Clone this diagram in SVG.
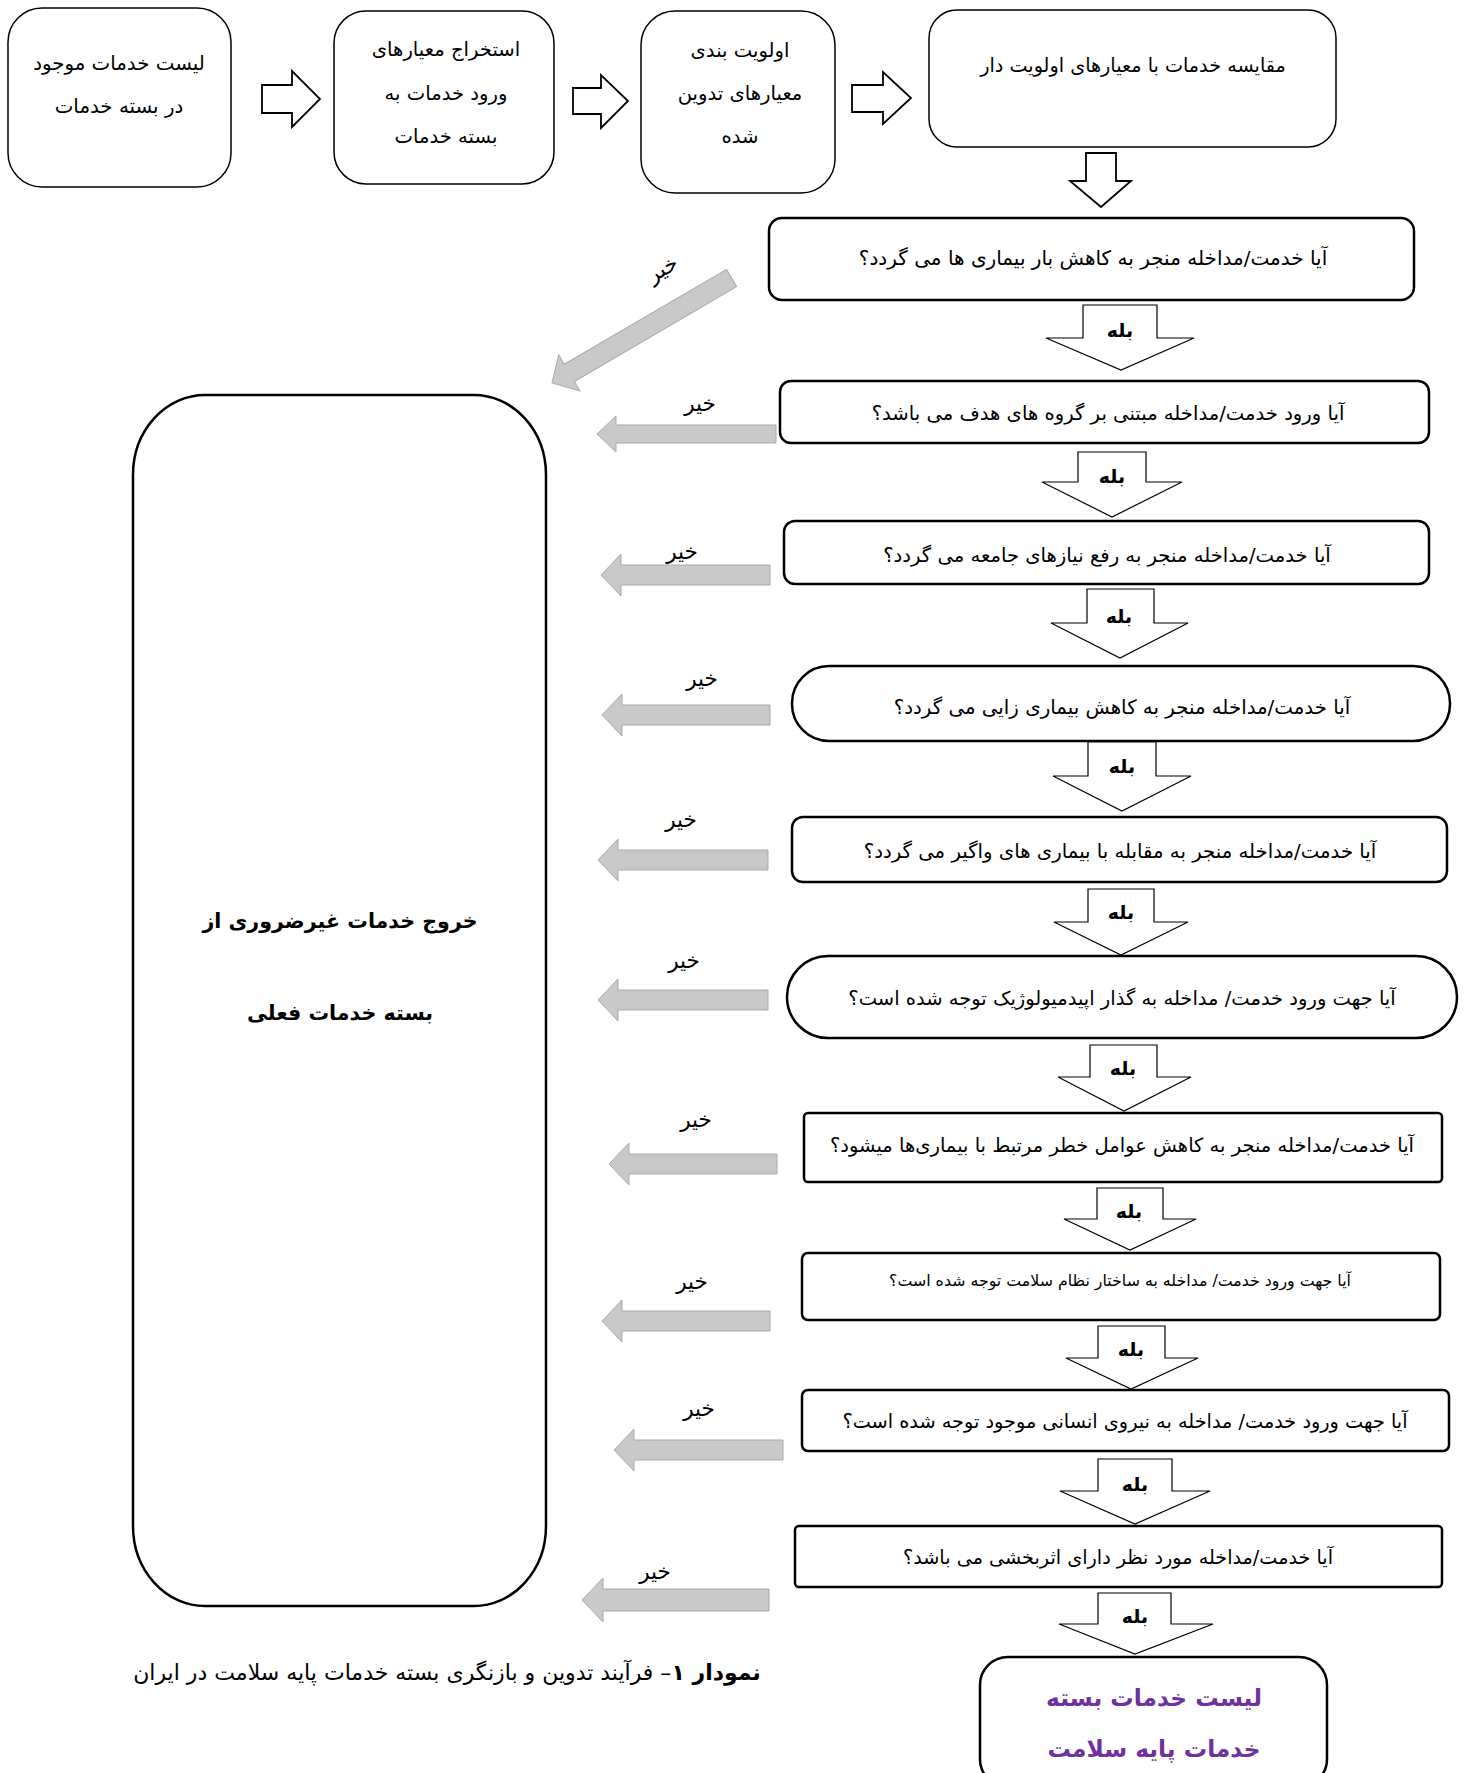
<svg xmlns="http://www.w3.org/2000/svg" width="1467" height="1773" viewBox="0 0 1467 1773">
<style>
.box{fill:#fff;stroke:#000;stroke-width:1.5}
.q{fill:#fff;stroke:#000;stroke-width:2.5}
.t{font-family:'DejaVu Sans',sans-serif;fill:#000;direction:rtl;text-anchor:middle}
.b{font-weight:bold}
.hollow{fill:#fff;stroke:#000;stroke-width:1.8;stroke-linejoin:miter}
.yes{fill:#fff;stroke:#000;stroke-width:1.2}
.no{fill:#c9c9c9;stroke:#a9a9a9;stroke-width:1}
.purple{fill:#7030a0}
</style>
<rect width="1467" height="1773" fill="#fff"/>

<g id="n-list">
<rect class="box" x="8" y="8" width="223" height="179" rx="34"/>
<text class="t" x="119" y="70" font-size="19.8">لیست خدمات موجود</text>
<text class="t" x="119" y="113" font-size="19.8">در بسته خدمات</text>
</g>
<g id="n-extract">
<rect class="box" x="334" y="11" width="220" height="173" rx="32"/>
<text class="t" x="446" y="56" font-size="19.6">استخراج معیارهای</text>
<text class="t" x="446" y="100" font-size="19.6">ورود خدمات به</text>
<text class="t" x="446" y="143" font-size="19.6">بسته خدمات</text>
</g>
<g id="n-priority">
<rect class="box" x="641" y="11" width="194" height="182" rx="34"/>
<text class="t" x="740" y="57" font-size="19.6">اولویت بندی</text>
<text class="t" x="740" y="100" font-size="19.6">معیارهای تدوین</text>
<text class="t" x="740" y="143" font-size="19.6">شده</text>
</g>
<g id="n-compare">
<rect class="box" x="929" y="10" width="407" height="137" rx="28"/>
<text class="t" x="1133" y="72" font-size="19.2">مقایسه خدمات با معیارهای اولویت دار</text>
</g>

<g id="q1">
<rect class="q" x="769" y="218" width="645" height="82" rx="13"/>
<text class="t" x="1093" y="265" font-size="20">آیا خدمت/مداخله منجر به کاهش  بار بیماری ها می گردد؟</text>
</g>
<g id="q2">
<rect class="q" x="780" y="381" width="649" height="62" rx="11"/>
<text class="t" x="1108" y="420" font-size="19.6">آیا ورود خدمت/مداخله مبتنی بر گروه های هدف می باشد؟</text>
</g>
<g id="q3">
<rect class="q" x="784" y="521" width="645" height="63" rx="11"/>
<text class="t" x="1107" y="562" font-size="19.6">آیا خدمت/مداخله منجر به رفع نیازهای جامعه می گردد؟</text>
</g>
<g id="q4">
<rect class="q" x="792" y="666" width="658" height="75" rx="37"/>
<text class="t" x="1122" y="714" font-size="19.8">آیا خدمت/مداخله منجر به کاهش بیماری زایی می گردد؟</text>
</g>
<g id="q5">
<rect class="q" x="792" y="817" width="655" height="65" rx="11"/>
<text class="t" x="1120" y="858" font-size="19.7">آیا خدمت/مداخله منجر به مقابله با بیماری های واگیر می گردد؟</text>
</g>
<g id="q6">
<rect class="q" x="787" y="956" width="670" height="82" rx="41"/>
<text class="t" x="1122" y="1005" font-size="19.5">آیا جهت ورود خدمت/ مداخله به گذار اپیدمیولوژیک توجه شده است؟</text>
</g>
<g id="q7">
<rect class="q" x="804" y="1113" width="638" height="69" rx="4"/>
<text class="t" x="1122" y="1152" font-size="19.5">آیا خدمت/مداخله منجر به کاهش عوامل خطر مرتبط با بیماری&#8204;ها میشود؟</text>
</g>
<g id="q8">
<rect class="q" x="802" y="1253" width="638" height="67" rx="6"/>
<text class="t" x="1120" y="1286" font-size="15.8">آیا جهت ورود خدمت/ مداخله به ساختار نظام سلامت توجه شده است؟</text>
</g>
<g id="q9">
<rect class="q" x="802" y="1390" width="647" height="61" rx="6"/>
<text class="t" x="1125" y="1428" font-size="19.3">آیا جهت ورود خدمت/ مداخله به نیروی انسانی موجود توجه شده است؟</text>
</g>
<g id="q10">
<rect class="q" x="795" y="1526" width="647" height="61" rx="4"/>
<text class="t" x="1118" y="1564" font-size="19.2">آیا خدمت/مداخله مورد نظر دارای اثربخشی می باشد؟</text>
</g>
<g id="n-final">
<rect class="q" x="980" y="1657" width="347" height="130" rx="28"/>
<text class="t b purple" x="1154" y="1706" font-size="23.3">لیست خدمات بسته</text>
<text class="t b purple" x="1154" y="1757" font-size="23.3">خدمات پایه سلامت</text>
</g>
<g id="n-exit">
<rect class="q" x="133" y="395" width="413" height="1211" rx="72" ry="80"/>
<text class="t b" x="340" y="928" font-size="20.6">خروج خدمات غیرضروری از</text>
<text class="t b" x="340" y="1020" font-size="20.6">بسته خدمات فعلی</text>
</g>

<g id="caption">
<text class="t" x="447" y="1680" font-size="22"><tspan class="b">نمودار ۱</tspan>– فرآیند تدوین و بازنگری بسته خدمات پایه سلامت در ایران</text>
</g>

<g id="connectors">
<path class="hollow" d="M262,85 H292 V71 L320,99 L292,127 V113 H262 Z"/>
<path class="hollow" d="M573,88 H601 V75 L628,101 L601,128 V114 H573 Z"/>
<path class="hollow" d="M852,85 H883 V72 L911,98 L883,124 V112 H852 Z"/>
<path class="hollow" d="M1086,153 H1116 V181 H1131 L1101,207 L1070,181 H1086 Z"/>

<path class="yes" d="M1083,305 H1157 V338 H1194 L1121,370 L1046,338 H1083 Z"/>
<path class="yes" d="M1078,452 H1146 V482 H1182 L1112,517 L1042,482 H1078 Z"/>
<path class="yes" d="M1087,589 H1154 V623 H1188 L1120,658 L1051,623 H1087 Z"/>
<path class="yes" d="M1088,742 H1156 V776 H1191 L1122,811 L1053,776 H1088 Z"/>
<path class="yes" d="M1088,889 H1154 V922 H1188 L1121,955 L1054,922 H1088 Z"/>
<path class="yes" d="M1090,1045 H1157 V1077 H1191 L1124,1111 L1058,1077 H1090 Z"/>
<path class="yes" d="M1097,1188 H1163 V1219 H1196 L1130,1250 L1064,1219 H1097 Z"/>
<path class="yes" d="M1098,1326 H1165 V1358 H1198 L1131,1389 L1066,1358 H1098 Z"/>
<path class="yes" d="M1098,1459 H1172 V1491 H1210 L1135,1524 L1060,1491 H1098 Z"/>
<path class="yes" d="M1098,1593 H1171 V1624 H1213 L1135,1654 L1059,1624 H1098 Z"/>
<g class="t b" font-size="19">
<text x="1120" y="337">بله</text>
<text x="1112" y="483">بله</text>
<text x="1119" y="623">بله</text>
<text x="1122" y="773">بله</text>
<text x="1121" y="919">بله</text>
<text x="1123" y="1075">بله</text>
<text x="1129" y="1218">بله</text>
<text x="1131" y="1356">بله</text>
<text x="1135" y="1491">بله</text>
<text x="1135" y="1623">بله</text>
</g>

<path class="no" transform="translate(552,383) rotate(-30.3)" d="M0,0 L20,-21 V-10 H208 V10 H20 V21 Z"/>
<path class="no" d="M597,434 L616,416 V425 H776 V443 H616 V452 Z"/>
<path class="no" d="M601,575 L621,554 V565 H770 V585 H621 V596 Z"/>
<path class="no" d="M602,715 L622,694 V705 H770 V725 H622 V736 Z"/>
<path class="no" d="M598,860 L618,839 V850 H768 V870 H618 V881 Z"/>
<path class="no" d="M598,1000 L618,979 V990 H768 V1010 H618 V1021 Z"/>
<path class="no" d="M609,1164 L629,1143 V1154 H777 V1174 H629 V1185 Z"/>
<path class="no" d="M602,1321 L622,1300 V1311 H770 V1331 H622 V1342 Z"/>
<path class="no" d="M614,1450 L634,1429 V1440 H783 V1460 H634 V1471 Z"/>
<path class="no" d="M582,1600 L603,1578 V1589 H769 V1611 H603 V1622 Z"/>
<g class="t" font-size="21.5">
<text transform="translate(666,275) rotate(-30)">خیر</text>
<text x="700" y="411">خیر</text>
<text x="682" y="559">خیر</text>
<text x="702" y="686">خیر</text>
<text x="681" y="827">خیر</text>
<text x="684" y="968">خیر</text>
<text x="696" y="1127">خیر</text>
<text x="692" y="1289">خیر</text>
<text x="699" y="1416">خیر</text>
<text x="655" y="1579">خیر</text>
</g>
</g>
</svg>
